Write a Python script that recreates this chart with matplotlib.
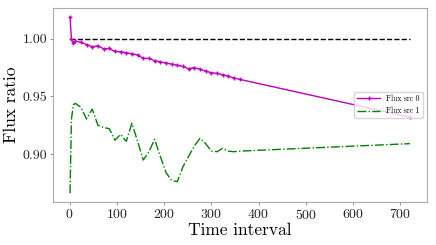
import matplotlib
matplotlib.use("Agg")
import matplotlib.pyplot as plt
from matplotlib.ticker import FormatStrFormatter

plt.rcParams['font.family'] = ['cmr10']
plt.rcParams['mathtext.fontset'] = 'cm'
plt.rcParams['axes.formatter.use_mathtext'] = True

t = [1, 4, 8, 12, 24, 36, 48, 60, 72, 84, 96, 108, 120, 132, 144, 156, 168,
     180, 192, 204, 216, 228, 240, 252, 264, 276, 288, 300, 312, 324, 336,
     348, 360, 720]
flux0 = [1.019, 1.000, 0.996, 0.998, 0.997, 0.995, 0.993, 0.994, 0.9913,
         0.9916, 0.989, 0.9887, 0.988, 0.987, 0.986, 0.983, 0.983, 0.981,
         0.980, 0.979, 0.978, 0.977, 0.976, 0.974, 0.975, 0.9735, 0.972,
         0.9705, 0.970, 0.9688, 0.9676, 0.966, 0.9648, 0.932]
flux1 = [0.866, 0.930, 0.9426, 0.944, 0.9406, 0.9304, 0.939, 0.925, 0.923,
         0.922, 0.912, 0.917, 0.911, 0.9267, 0.911, 0.8948, 0.902, 0.9128,
         0.898, 0.884, 0.877, 0.876, 0.889, 0.898, 0.907, 0.9136, 0.909,
         0.9026, 0.902, 0.905, 0.9025, 0.902, 0.9025, 0.909]
ref_t = [1, 720]
ref_y = [1.0, 1.0]

fig = plt.figure(figsize=(4.36, 2.45), dpi=100)
ax = fig.add_axes([0.1216, 0.1755, 0.8574, 0.7915])

ax.plot(ref_t, ref_y, 'k--', lw=1.0)
ax.plot(t, flux0, color='m', marker='+', markersize=3, lw=1.0, label='Flux src 0')
ax.plot(t, flux1, color='g', ls='-.', lw=1.0, label='Flux src 1')

ax.set_xticks([0, 100, 200, 300, 400, 500, 600, 700])
ax.set_yticks([0.90, 0.95, 1.00])
ax.yaxis.set_major_formatter(FormatStrFormatter('%.2f'))
ax.tick_params(labelsize=10, color='#999999', length=2.5, pad=1.5,
               labelcolor='#222222')
for s in ax.spines.values():
    s.set_color('#aaaaaa')

ax.set_xlabel('Time interval', fontsize=12.5, labelpad=1)
ax.set_ylabel('Flux ratio', fontsize=12.5, labelpad=3)
ax.legend(loc='center right', fontsize=5.5, numpoints=1, handlelength=3)

fig.savefig('out.png', dpi=100)
